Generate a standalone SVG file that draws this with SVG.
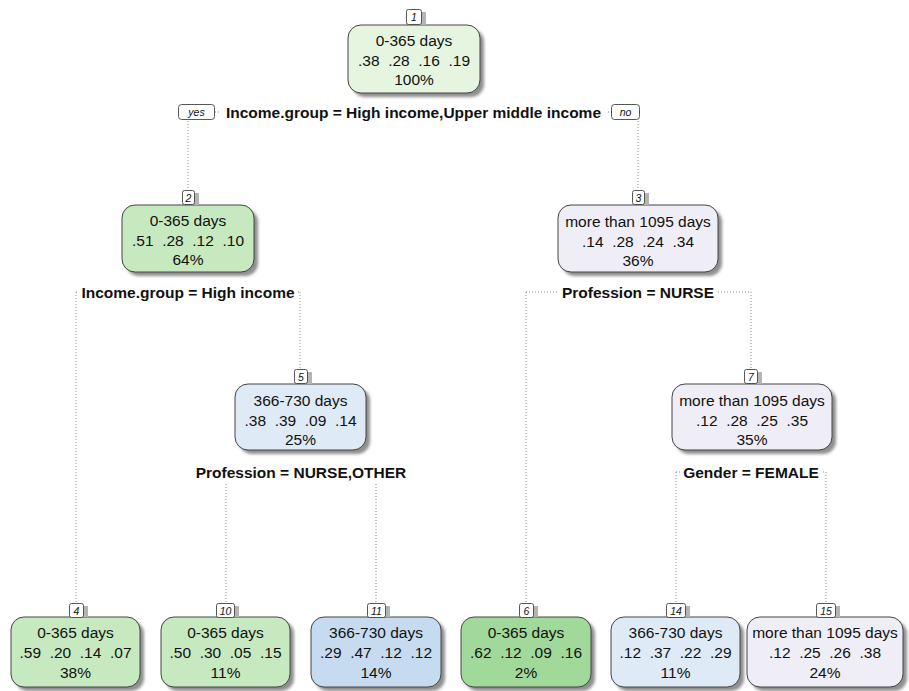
<svg xmlns="http://www.w3.org/2000/svg" width="909" height="691" viewBox="0 0 909 691">
<defs>
<filter id="blur" x="-10%" y="-10%" width="130%" height="130%"><feGaussianBlur stdDeviation="1.4"/></filter>
<style>
.bg{fill:#ffffff}
.sh{fill:#8f8f8f;filter:url(#blur)}
.nsh{fill:#b4b4b4}
.box{stroke:#444444;stroke-width:1}
.g1{fill:#e5f5e0}.g2{fill:#c7e9c0}.g3{fill:#a1d99b}
.b1{fill:#deebf7}.b2{fill:#c6dbef}.p1{fill:#efedf5}
.num{fill:#ffffff;stroke:#444444;stroke-width:0.9}
.nt{font-family:"Liberation Sans",Arial,sans-serif;font-size:10.5px;font-style:italic;text-anchor:middle;fill:#111}
.t{font-family:"Liberation Sans",Arial,sans-serif;font-size:15.5px;text-anchor:middle;fill:#111}
.s{font-family:"Liberation Sans",Arial,sans-serif;font-size:15.5px;font-weight:bold;text-anchor:middle;fill:#111}
.dl{stroke:#8a8a8a;stroke-width:1;stroke-dasharray:1 2;fill:none}
.lb{fill:#ffffff}
</style>
</defs>
<rect class="bg" x="0" y="0" width="909" height="691"/>

<g id="connectors">
<path class="dl" d="M188 112H638M188 112V190M638 112V190"/>
<path class="dl" d="M76 292H300M76 292V603M300 292V369"/>
<path class="dl" d="M526 292H751M526 292V603M751 292V369"/>
<path class="dl" d="M226 472H376M226 472V603M376 472V603"/>
<path class="dl" d="M676 472H826M676 472V603M826 472V603"/>
</g>

<g id="split-labels">
<rect class="lb" x="221" y="103" width="385" height="19"/>
<text class="s" x="413.5" y="117.5">Income.group = High income,Upper middle income</text>
<g id="yes"><rect x="178.5" y="104.5" width="36" height="15" rx="3" class="num"/><text class="nt" x="196.5" y="116">yes</text></g>
<g id="no"><rect x="611.5" y="104.5" width="28" height="15" rx="3" class="num"/><text class="nt" x="625.5" y="116">no</text></g>
<rect class="lb" x="79" y="283" width="219" height="19"/>
<text class="s" x="188" y="297.5">Income.group = High income</text>
<rect class="lb" x="559" y="283" width="158" height="19"/>
<text class="s" x="638" y="297.5">Profession = NURSE</text>
<rect class="lb" x="193" y="463" width="216" height="19"/>
<text class="s" x="301" y="477.5">Profession = NURSE,OTHER</text>
<rect class="lb" x="680" y="463" width="141" height="19"/>
<text class="s" x="751" y="477.5">Gender = FEMALE</text>
</g>

<g id="node1">
<rect class="sh" x="352" y="29" width="132" height="68" rx="13"/>
<rect class="box g1" x="348" y="25" width="132" height="68" rx="13"/>
<rect class="nsh" x="410" y="12" width="16" height="13"/>
<rect class="num" x="406.5" y="9.5" width="15" height="15" rx="2"/>
<text class="nt" x="414" y="21">1</text>
<text class="t" x="414" y="45.5">0-365 days</text>
<text class="t" x="414" y="65.5" xml:space="preserve">.38  .28  .16  .19</text>
<text class="t" x="414" y="84.5">100%</text>
</g>

<g id="node2">
<rect class="sh" x="126" y="209" width="132" height="67" rx="13"/>
<rect class="box g2" x="122" y="205" width="132" height="67" rx="13"/>
<rect class="nsh" x="186" y="193" width="13" height="12"/>
<rect class="num" x="182.5" y="190.5" width="12" height="14" rx="2"/>
<text class="nt" x="188.5" y="201.5">2</text>
<text class="t" x="188" y="225.5">0-365 days</text>
<text class="t" x="188" y="245.5" xml:space="preserve">.51  .28  .12  .10</text>
<text class="t" x="188" y="264.5">64%</text>
</g>

<g id="node3">
<rect class="sh" x="562" y="209" width="160" height="67" rx="13"/>
<rect class="box p1" x="558" y="205" width="160" height="67" rx="13"/>
<rect class="nsh" x="636" y="193" width="13" height="12"/>
<rect class="num" x="632.5" y="190.5" width="12" height="14" rx="2"/>
<text class="nt" x="638.5" y="201.5">3</text>
<text class="t" x="638" y="226.5">more than 1095 days</text>
<text class="t" x="638" y="246.5" xml:space="preserve">.14  .28  .24  .34</text>
<text class="t" x="638" y="265.5">36%</text>
</g>

<g id="node5">
<rect class="sh" x="239" y="388" width="131" height="66" rx="13"/>
<rect class="box b1" x="235" y="384" width="131" height="66" rx="13"/>
<rect class="nsh" x="298" y="372" width="14" height="12"/>
<rect class="num" x="294.5" y="369.5" width="13" height="14" rx="2"/>
<text class="nt" x="301" y="380.5">5</text>
<text class="t" x="300.5" y="405.5">366-730 days</text>
<text class="t" x="300.5" y="425.5" xml:space="preserve">.38  .39  .09  .14</text>
<text class="t" x="300.5" y="444.5">25%</text>
</g>

<g id="node7">
<rect class="sh" x="676" y="388" width="160" height="66" rx="13"/>
<rect class="box p1" x="672" y="384" width="160" height="66" rx="13"/>
<rect class="nsh" x="748" y="372" width="14" height="12"/>
<rect class="num" x="744.5" y="369.5" width="13" height="14" rx="2"/>
<text class="nt" x="751" y="380.5">7</text>
<text class="t" x="752" y="405.5">more than 1095 days</text>
<text class="t" x="752" y="425.5" xml:space="preserve">.12  .28  .25  .35</text>
<text class="t" x="752" y="444.5">35%</text>
</g>

<g id="node4">
<rect class="sh" x="15" y="621" width="129" height="70" rx="13"/>
<rect class="box g2" x="11" y="617" width="129" height="70" rx="13"/>
<rect class="nsh" x="73" y="606" width="15" height="11"/>
<rect class="num" x="69.5" y="603.5" width="14" height="14" rx="2"/>
<text class="nt" x="76.5" y="614.5">4</text>
<text class="t" x="75.5" y="637.5">0-365 days</text>
<text class="t" x="75.5" y="657.5" xml:space="preserve">.59  .20  .14  .07</text>
<text class="t" x="75.5" y="677.5">38%</text>
</g>

<g id="node10">
<rect class="sh" x="165" y="621" width="129" height="70" rx="13"/>
<rect class="box g2" x="161" y="617" width="129" height="70" rx="13"/>
<rect class="nsh" x="220" y="606" width="19" height="11"/>
<rect class="num" x="216.5" y="603.5" width="18" height="14" rx="2"/>
<text class="nt" x="225.5" y="614.5">10</text>
<text class="t" x="225.5" y="637.5">0-365 days</text>
<text class="t" x="225.5" y="657.5" xml:space="preserve">.50  .30  .05  .15</text>
<text class="t" x="225.5" y="677.5">11%</text>
</g>

<g id="node11">
<rect class="sh" x="315" y="621" width="130" height="70" rx="13"/>
<rect class="box b2" x="311" y="617" width="130" height="70" rx="13"/>
<rect class="nsh" x="371" y="606" width="19" height="11"/>
<rect class="num" x="367.5" y="603.5" width="18" height="14" rx="2"/>
<text class="nt" x="376.5" y="614.5">11</text>
<text class="t" x="376" y="637.5">366-730 days</text>
<text class="t" x="376" y="657.5" xml:space="preserve">.29  .47  .12  .12</text>
<text class="t" x="376" y="677.5">14%</text>
</g>

<g id="node6">
<rect class="sh" x="465" y="621" width="130" height="70" rx="13"/>
<rect class="box g3" x="461" y="617" width="130" height="70" rx="13"/>
<rect class="nsh" x="523" y="606" width="15" height="11"/>
<rect class="num" x="519.5" y="603.5" width="14" height="14" rx="2"/>
<text class="nt" x="526.5" y="614.5">6</text>
<text class="t" x="526" y="637.5">0-365 days</text>
<text class="t" x="526" y="657.5" xml:space="preserve">.62  .12  .09  .16</text>
<text class="t" x="526" y="677.5">2%</text>
</g>

<g id="node14">
<rect class="sh" x="615" y="621" width="129" height="70" rx="13"/>
<rect class="box b1" x="611" y="617" width="129" height="70" rx="13"/>
<rect class="nsh" x="670" y="606" width="20" height="11"/>
<rect class="num" x="666.5" y="603.5" width="19" height="14" rx="2"/>
<text class="nt" x="676" y="614.5">14</text>
<text class="t" x="675.5" y="637.5">366-730 days</text>
<text class="t" x="675.5" y="657.5" xml:space="preserve">.12  .37  .22  .29</text>
<text class="t" x="675.5" y="677.5">11%</text>
</g>

<g id="node15">
<rect class="sh" x="751" y="621" width="156" height="70" rx="13"/>
<rect class="box p1" x="747" y="617" width="156" height="70" rx="13"/>
<rect class="nsh" x="820" y="606" width="20" height="11"/>
<rect class="num" x="816.5" y="603.5" width="19" height="14" rx="2"/>
<text class="nt" x="826" y="614.5">15</text>
<text class="t" x="825" y="637.5">more than 1095 days</text>
<text class="t" x="825" y="657.5" xml:space="preserve">.12  .25  .26  .38</text>
<text class="t" x="825" y="677.5">24%</text>
</g>
</svg>
